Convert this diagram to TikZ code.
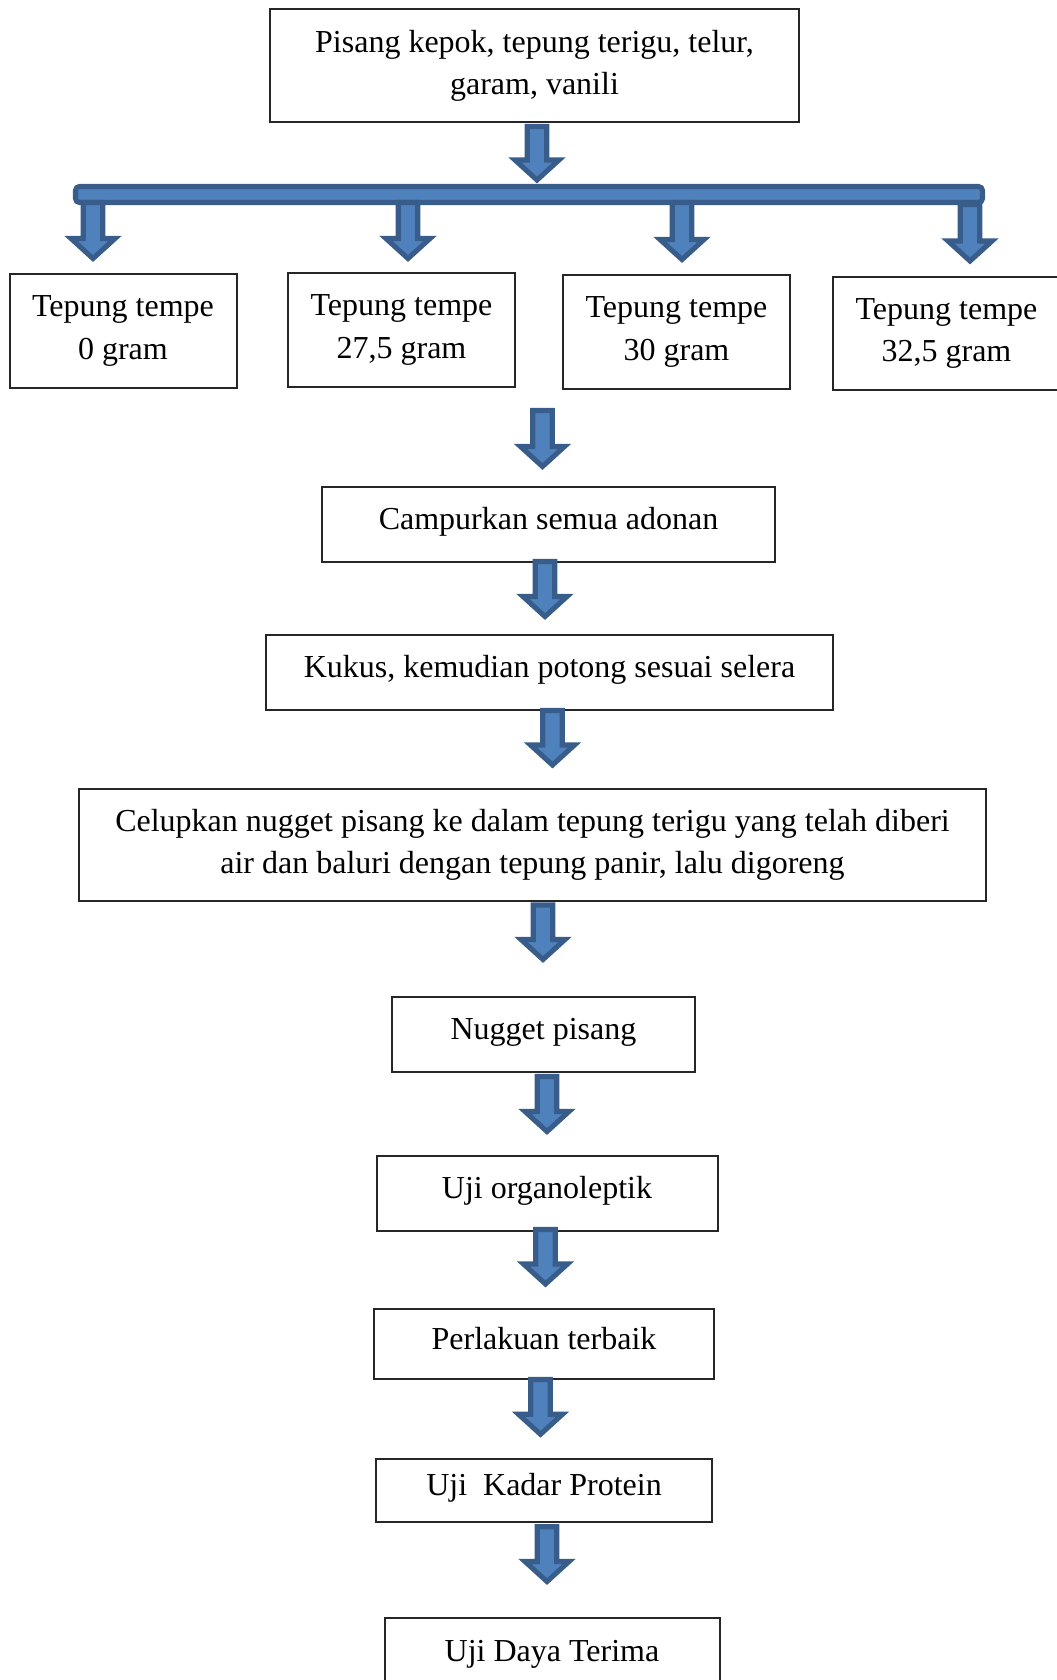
\documentclass[tikz,border=0pt]{standalone}
\usepackage{fontspec}
\setmainfont{Liberation Serif}
\usetikzlibrary{positioning,calc,arrows,arrows.meta}
\definecolor{isi}{HTML}{4F81BD}
\definecolor{garis}{HTML}{385D8A}
\tikzset{font=\fontsize{12}{15.8}\selectfont}
\tikzset{
	ukuran/.style 2 args={minimum width=#1*0.375pt, minimum height=#2*0.375pt},
	kotak/.style={draw=black!85, line width=0.75pt, inner sep=0pt, outer sep=0pt, align=center},
	satu/.style={text height=8.2pt, text depth=4.2pt},
	palang/.style={draw=garis, fill=isi, line width=1.9pt, rounded corners=1.5pt, inner sep=0pt, outer sep=0pt},
	panah/.style={draw=garis, fill=isi, line width=1.9pt, line join=miter,
		to path={let \p1=(\tikztostart), \p2=(\tikztotarget) in
			(\x1-3.66pt,\y1) -- (\x1+3.66pt,\y1) -- (\x1+3.66pt,\y2+7.5pt) -- (\x1+8.25pt,\y2+7.5pt)
			-- (\x1,\y2) -- (\x1-8.25pt,\y2+7.5pt) -- (\x1-3.66pt,\y2+7.5pt) -- cycle}},
}

\begin{document}
\begin{tikzpicture}[x=0.375pt, y=-0.375pt]
	\useasboundingbox (0,0) rectangle (1057,1680);
	\begin{scope}
		\tikzstyle{every node}=[kotak]
		\node[ukuran={529}{113}] (bahan) at (534.5,65.5) {Pisang kepok, tepung terigu, telur,\\garam, vanili};
		\node[ukuran={227}{114}] (t0) at (123,331) {Tepung tempe\\0 gram};
		\node[ukuran={227}{114}] (t1) at (401.5,330) {Tepung tempe\\27,5 gram};
		\node[ukuran={227}{114}] (t2) at (676.5,332) {Tepung tempe\\30 gram};
		\node[ukuran={227}{113}] (t3) at (946.5,333.5) {Tepung tempe\\32,5 gram};
		\node[satu, ukuran={453}{75}] (campur) at (548.5,524.5) {Campurkan semua adonan};
		\node[satu, ukuran={567}{75}] (kukus) at (549.5,672.5) {Kukus, kemudian potong sesuai selera};
		\node[ukuran={907}{112}] (celup) at (532.5,844.5) {Celupkan nugget pisang ke dalam tepung terigu yang telah diberi\\air dan baluri dengan tepung panir, lalu digoreng};
		\node[satu, ukuran={303}{75}] (nugget) at (543.5,1034) {Nugget pisang};
		\node[satu, ukuran={341}{75}] (organo) at (547,1193) {Uji organoleptik};
		\node[satu, ukuran={340}{70}] (terbaik) at (544,1344) {Perlakuan terbaik};
		\node[satu, ukuran={336}{63.5}] (protein) at (544,1490.5) {Uji~ Kadar Protein};
		\node[satu, ukuran={335}{76}] (terima) at (552,1656) {Uji Daya Terima};
	\end{scope}

	\node[palang, ukuran={907}{16}] (palang) at (529,194.5) {};

	\draw[panah] ($(bahan.south)+(2.5,4.5)$) to ($(palang.north)+(0,-6.5)$);
	\draw[panah] ($(palang.south)+(-436,0)$) to ($(t0.north)+(0,-15.5)$);
	\draw[panah] ($(palang.south)+(-121,0)$) to ($(t1.north)+(0,-14.5)$);
	\draw[panah] ($(palang.south)+(153,0)$) to ($(t2.north)+(0,-15.5)$);
	\draw[panah] ($(palang.south)+(441,2)$) to ($(t3.north)+(0,-16)$);
	\draw[panah] ($(campur.north)+(-6,-76.5)$) to ($(campur.north)+(0,-20.5)$);
	\draw[panah] ($(campur.south)+(-3.5,-0.5)$) to ($(kukus.north)+(0,-18.5)$);
	\draw[panah] ($(kukus.south)+(3,0.5)$) to ($(celup.north)+(0,-23.5)$);
	\draw[panah] ($(celup.south)+(10.5,4.5)$) to ($(nugget.north)+(0,-37)$);
	\draw[panah] ($(nugget.south)+(3.5,5)$) to ($(organo.north)+(0,-24)$);
	\draw[panah] ($(organo.south)+(-1.5,-1)$) to ($(terbaik.north)+(0,-25)$);
	\draw[panah] ($(terbaik.south)+(-3.5,0.5)$) to ($(protein.north)+(0,-24.5)$);
	\draw[panah] ($(protein.south)+(3,4.5)$) to ($(terima.north)+(0,-36.5)$);
\end{tikzpicture}
\end{document}
